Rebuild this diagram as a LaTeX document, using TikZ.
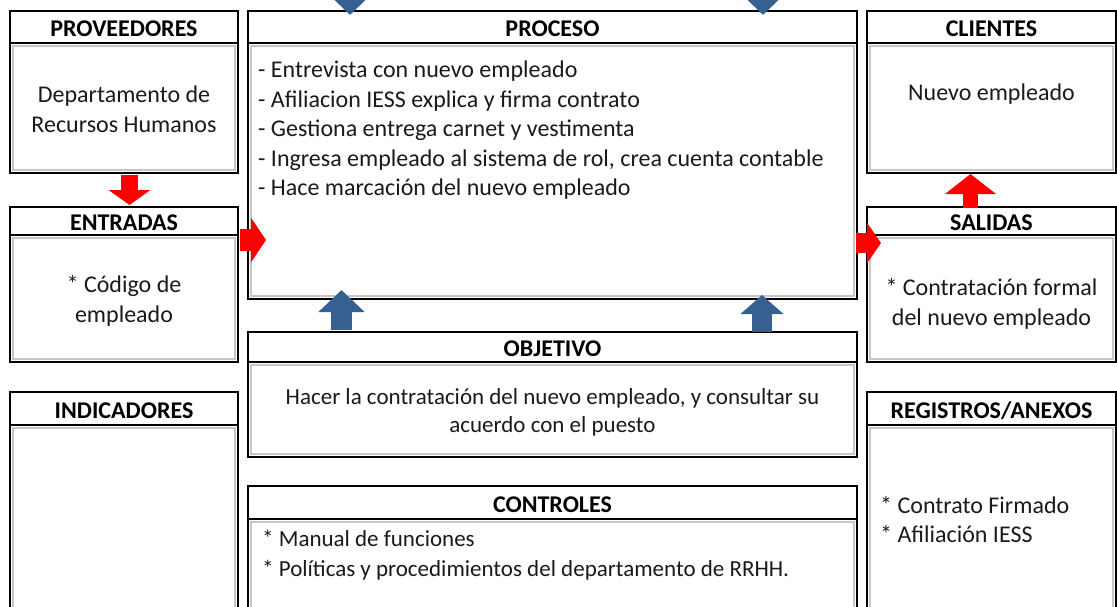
\documentclass[tikz,border=0pt]{standalone}
\usepackage{fontspec}
\setmainfont{Carlito}
\usetikzlibrary{arrows.meta, positioning, calc}
\definecolor{innerGray}{HTML}{C6C6C6}
\definecolor{flowRed}{HTML}{FF0000}
\definecolor{flowBlue}{HTML}{376092}
\definecolor{textDark}{HTML}{1A1A1A}

\begin{document}
\begin{tikzpicture}[x=1pt, y=-1pt,
    hdr/.style={rectangle, draw, line width=2.5pt, inner sep=0pt, outer sep=0pt,
      minimum height=33pt, text height=19.5pt, text depth=0pt,
      text=black, font=\fontsize{24}{28}\selectfont\bfseries},
    body/.style={rectangle, draw, line width=2.5pt, inner sep=0pt, outer sep=0pt,
      path picture={\draw[innerGray, line width=1.4pt]
        ([xshift=3pt,yshift=-3pt]path picture bounding box.north west) rectangle
        ([xshift=-3pt,yshift=3pt]path picture bounding box.south east);}},
    txt/.style={inner sep=0pt, align=left, text=textDark, font=\fontsize{24}{29.5}\selectfont},
    ctxt/.style={txt, align=center, font=\fontsize{24}{30}\selectfont},
    redflow/.style={draw=flowRed, line width=#1},
    blueflow/.style={draw=flowBlue, line width=#1}
  ]
  \useasboundingbox (0,0) rectangle (1117,606);

  % left column
  \node[hdr, anchor=north west, minimum width=228pt, minimum height=32pt] (provh) at (10,11) {PROVEEDORES};
  \node[body, below=0pt of provh, minimum width=228pt, minimum height=130pt] (prov) {};
  \node[hdr, below=34pt of prov, minimum width=228pt, minimum height=28pt] (entrh) {ENTRADAS};
  \node[body, below=0pt of entrh, minimum width=228pt, minimum height=127pt] (entr) {};
  \node[hdr, below=30pt of entr, minimum width=228pt] (indh) {INDICADORES};
  \node[body, below=0pt of indh, minimum width=228pt, minimum height=200pt] (ind) {};

  % middle column
  \node[hdr, anchor=north west, minimum width=609pt, minimum height=32pt] (proch) at (248,11) {PROCESO};
  \node[body, below=0pt of proch, minimum width=609pt, minimum height=256pt] (proc) {};
  \node[hdr, below=33pt of proc, minimum width=609pt, minimum height=30pt] (objh) {OBJETIVO};
  \node[body, below=0pt of objh, minimum width=609pt, minimum height=95pt] (obj) {};
  \node[hdr, below=29pt of obj, minimum width=609pt] (ctrlh) {CONTROLES};
  \node[body, below=0pt of ctrlh, minimum width=609pt, minimum height=110pt] (ctrl) {};

  % right column
  \node[hdr, anchor=north west, minimum width=249pt, minimum height=32pt] (clih) at (867,11) {CLIENTES};
  \node[body, below=0pt of clih, minimum width=249pt, minimum height=130pt] (cli) {};
  \node[hdr, below=34pt of cli, minimum width=249pt, minimum height=28pt] (salh) {SALIDAS};
  \node[body, below=0pt of salh, minimum width=249pt, minimum height=127pt] (sal) {};
  \node[hdr, below=30pt of sal, minimum width=249pt] (regh) {REGISTROS/ANEXOS};
  \node[body, below=0pt of regh, minimum width=249pt, minimum height=200pt] (reg) {};

  % texts inside the boxes
  \node[ctxt] (provtxt) at ($(prov.center)+(0,1)$) {Departamento de\\Recursos Humanos};
  \node[ctxt] (entrtxt) at ($(entr.center)+(0,2)$) {* Código de\\empleado};
  \node[ctxt] (saltxt) at ($(sal.center)+(0,5)$) {* Contratación formal\\del nuevo empleado};
  \node[ctxt, font=\fontsize{23}{28}\selectfont] (objtxt) at ($(obj.center)+(0,3)$)
    {Hacer la contratación del nuevo empleado, y consultar su\\acuerdo con el puesto};
  \node[txt, anchor=north west] (proctxt) at ($(proc.north west)+(10,18)$)
    {- Entrevista con nuevo empleado\\- Afiliacion IESS explica y firma contrato\\- Gestiona entrega carnet y vestimenta\\- Ingresa empleado al sistema de rol, crea cuenta contable\\- Hace marcación del nuevo empleado};
  \node[txt] (clitxt) at ($(cli.north)+(0,51)$) {Nuevo empleado};
  \node[txt, anchor=north west, font=\fontsize{23}{30}\selectfont] (ctrltxt) at ($(ctrl.north west)+(14,10.5)$)
    {* Manual de funciones\\* Políticas y procedimientos del departamento de RRHH.};
  \node[txt, anchor=north west] (regtxt) at ($(reg.north west)+(13,71)$)
    {* Contrato Firmado\\* Afiliación IESS};

  % red flow arrows
  \draw[redflow=17pt, -{Triangle[length=15pt, width=41pt]}]
    ([xshift=5.5pt, yshift=-2pt]prov.south) -- ([xshift=5.5pt, yshift=2pt]entrh.north);
  \draw[redflow=22pt, -{Triangle[length=15pt, width=44pt]}]
    ($(entr.north east)+(1.5,5)$) -- ($(proc.west |- entr.north)+(18,5)$);
  \draw[redflow=20pt, -{Triangle[length=14pt, width=40pt]}]
    ($(proc.east |- sal.north)+(-1,8)$) -- ($(sal.north west)+(14,8)$);
  \draw[redflow=15pt, -{Triangle[length=20pt, width=50pt]}]
    ([xshift=-21pt, yshift=-0.5pt]salh.north) -- ([xshift=-21pt, yshift=-1pt]cli.south);

  % blue arrows
  \draw[blueflow=22pt, -{Triangle[length=22pt, width=44pt]}]
    ([xshift=-202.5pt, yshift=30pt]proch.north) -- ([xshift=-202.5pt, yshift=-4pt]proch.north);
  \draw[blueflow=22pt, -{Triangle[length=22pt, width=44pt]}]
    ([xshift=210.5pt, yshift=30pt]proch.north) -- ([xshift=210.5pt, yshift=-4pt]proch.north);
  \draw[blueflow=21pt, -{Triangle[length=22pt, width=45pt]}]
    ([xshift=-211pt, yshift=2pt]objh.north) -- ([xshift=-211pt, yshift=9pt]proc.south);
  \draw[blueflow=20pt, -{Triangle[length=19pt, width=42pt]}]
    ([xshift=209.5pt]objh.north) -- ([xshift=209.5pt, yshift=4pt]proc.south);
\end{tikzpicture}
\end{document}
